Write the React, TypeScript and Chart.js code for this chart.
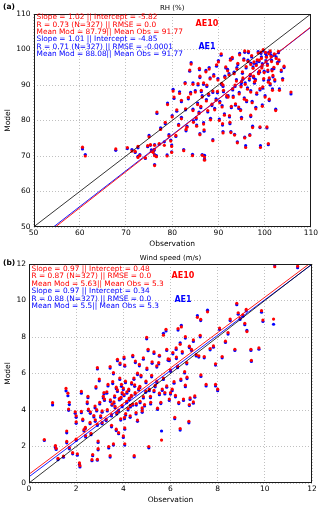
import React, { useEffect, useRef } from "react";
import { Chart, registerables } from "chart.js";

Chart.register(...registerables);

// ---------------- RH panel data ----------------
const rhTicks = [50, 60, 70, 80, 90, 100, 110];
const rhObs = [
  60.6, 61.2, 67.8, 70.3, 71.3, 72.0, 72.6, 72.6, 73.0, 74.2, 74.7, 75.0, 75.3, 75.5, 75.9, 76.1, 76.2, 76.2, 76.2, 76.6,
  77.2, 78.3, 78.9, 79.3, 79.7, 79.9, 79.9, 80.8, 81.4, 82.5, 83.2, 84.4, 85.3, 86.0, 86.5, 86.9, 87.0, 87.0, 88.8, 90.9,
  91.0, 92.7, 93.5, 94.1, 95.7, 95.9, 96.8, 97.4, 99.0, 99.1, 100.5, 100.8,
  76.7, 80.2, 80.4, 81.6, 82.0, 82.8, 82.9, 83.8, 84.1, 84.5, 85.6, 85.9, 86.5, 86.8, 87.3, 87.7, 88.2, 88.8, 89.5, 89.6,
  89.9, 90.6, 90.8, 91.1, 91.4, 91.6, 92.1, 92.4, 92.6, 93.1, 93.4, 93.7, 93.9, 94.2, 94.5, 94.8, 95.2, 95.7, 95.8, 96.1,
  96.4, 96.7, 97.0, 97.2, 97.5, 97.8, 98.1, 98.4, 98.7, 99.0, 99.2, 99.5, 99.8, 100.1, 100.4, 100.7, 100.9, 101.2, 101.5, 101.8,
  102.1, 102.4, 103.1, 103.2, 103.6, 103.9, 104.2, 105.7,
  84.6, 85.2, 85.8, 86.2, 86.8, 87.4, 87.9, 88.3, 88.6, 89.2, 89.8, 90.3, 90.7, 91.3, 91.8, 92.3, 92.8, 93.2, 93.6, 94.0,
  94.4, 94.9, 95.3, 95.6, 96.0, 96.3, 96.9, 97.3, 97.7, 98.0, 98.3, 98.6, 98.9, 99.3, 99.6, 99.9, 100.2, 100.6, 101.0, 101.4,
  101.7, 102.0, 102.5, 103.0, 88.0, 86.0, 84.5, 83.5, 85.0, 81.0, 80.0, 82.0, 78.5, 79.0, 77.5, 83.0, 84.0,
  90.0, 91.0, 92.0, 93.0, 94.6, 95.0, 95.5, 96.5, 97.0, 97.6, 98.2, 98.8, 99.4, 99.7, 100.3, 100.8, 101.2, 101.6, 102.2, 102.8,
  87.5, 89.0, 86.3, 85.5, 90.2, 92.5, 95.0, 97.0, 99.5, 101.0,
];
const rhModAE10 = [
  72.5, 70.0, 72.0, 72.4, 71.4, 71.3, 72.7, 69.6, 70.1, 69.5, 72.9, 75.4, 73.2, 71.3, 71.0, 71.9, 73.0, 70.1, 67.3, 69.8,
  73.5, 73.0, 70.0, 75.6, 74.2, 72.7, 71.0, 75.8, 78.6, 71.5, 78.1, 70.1, 78.4, 76.0, 70.2, 77.4, 69.7, 68.8, 74.3, 79.1,
  76.5, 76.6, 75.9, 73.7, 75.1, 72.4, 75.8, 78.0, 78.2, 72.4, 78.2, 73.5,
  82.4, 88.3, 86.6, 87.6, 85.7, 90.4, 83.3, 94.2, 95.9, 82.8, 90.4, 94.7, 86.6, 90.6, 93.7, 82.8, 91.7, 88.3, 85.7, 95.7,
  91.4, 98.8, 83.8, 88.5, 92.1, 95.1, 86.6, 81.4, 97.0, 89.0, 93.2, 84.7, 91.1, 96.1, 87.5, 82.8, 93.7, 99.6, 90.2, 85.7,
  96.6, 91.8, 88.0, 98.3, 94.7, 90.9, 83.3, 97.1, 93.2, 89.0, 99.3, 95.6, 91.8, 86.6, 97.8, 94.2, 98.8, 90.4, 96.6, 92.7,
  98.8, 82.8, 97.1, 88.5, 94.2, 91.4, 95.3, 88.0,
  79.5, 80.8, 82.0, 84.0, 79.0, 85.5, 87.5, 80.2, 84.6, 83.0, 88.2, 85.0, 90.5, 81.5, 87.0, 92.8, 84.0, 86.5, 90.0, 94.5,
  83.8, 89.5, 92.0, 86.0, 95.2, 88.8, 93.0, 85.0, 96.5, 91.2, 87.8, 99.0, 94.0, 97.5, 89.5, 93.5, 99.2, 95.5, 92.0, 98.0,
  88.5, 95.0, 97.5, 99.5, 94.5, 92.5, 90.2, 86.5, 88.0, 83.0, 81.0, 80.5, 79.5, 84.5, 77.5, 77.5, 87.5,
  96.5, 90.0, 94.0, 97.8, 98.5, 91.0, 97.0, 99.5, 95.8, 92.5, 95.5, 97.0, 94.8, 100.0, 96.5, 90.8, 99.6, 94.0, 91.5, 96.0,
  90.0, 92.5, 88.5, 84.5, 80.0, 79.5, 80.5, 81.5, 84.0, 86.0,
];
const rhModAE1 = [
  72.0, 70.4, 71.6, 72.1, 71.8, 71.0, 72.3, 69.9, 70.4, 69.3, 72.6, 75.8, 73.0, 71.7, 71.4, 71.6, 73.2, 70.4, 67.6, 70.1,
  73.3, 74.0, 70.3, 76.0, 74.5, 73.1, 71.2, 75.5, 78.9, 71.8, 78.4, 70.5, 78.7, 76.3, 70.4, 77.0, 70.2, 69.1, 74.6, 78.7,
  76.9, 76.9, 76.1, 74.0, 75.3, 72.9, 76.0, 78.4, 78.0, 72.9, 77.9, 73.2,
  82.0, 88.8, 86.2, 88.1, 85.3, 90.7, 83.0, 93.9, 96.3, 83.2, 90.0, 94.3, 87.0, 90.2, 94.1, 82.4, 92.0, 87.9, 86.1, 95.3,
  91.8, 98.4, 84.2, 88.1, 92.5, 94.8, 87.0, 81.0, 97.4, 88.6, 93.6, 84.3, 91.5, 95.7, 87.9, 83.1, 93.3, 99.2, 90.6, 85.3,
  97.0, 91.4, 88.4, 97.9, 95.1, 90.5, 83.7, 96.7, 93.6, 88.6, 98.9, 96.0, 91.4, 87.0, 98.2, 93.8, 99.2, 90.0, 97.0, 92.3,
  98.4, 83.2, 96.7, 88.9, 93.8, 91.8, 94.9, 87.5,
  79.9, 80.4, 82.4, 83.6, 79.4, 85.9, 87.1, 80.6, 84.2, 83.4, 87.8, 85.4, 90.1, 81.9, 86.6, 93.2, 83.6, 86.9, 89.6, 94.9,
  83.4, 89.9, 91.6, 86.4, 94.8, 89.2, 92.6, 85.4, 96.1, 91.6, 87.4, 99.4, 93.6, 97.9, 89.1, 93.9, 98.8, 95.9, 91.6, 98.4,
  88.9, 94.6, 97.9, 99.1, 94.9, 92.1, 90.6, 86.1, 88.4, 82.6, 81.4, 80.9, 79.1, 84.9, 77.9, 77.1, 87.9,
  96.9, 89.6, 94.4, 97.4, 98.9, 90.6, 97.4, 99.1, 96.2, 92.1, 95.9, 96.6, 95.2, 99.6, 96.9, 91.2, 99.2, 94.4, 91.1, 96.4,
  89.6, 92.9, 88.1, 84.9, 80.4, 79.1, 80.9, 81.1, 84.4, 85.6,
];
const rhFitAE10 = [1.02, -5.82];
const rhFitAE1 = [1.01, -4.85];
const rhStatsAE10 = [
  "Slope = 1.02 || Intercept = -5.82",
  "R = 0.73 (N=327) || RMSE = 0.0",
  "Mean Mod = 87.79|| Mean Obs = 91.77",
];
const rhStatsAE1 = [
  "Slope = 1.01 || Intercept = -4.85",
  "R = 0.71 (N=327) || RMSE = -0.0001",
  "Mean Mod = 88.08|| Mean Obs = 91.77",
];

// ---------------- Wind panel data ----------------
const windTicks = [0, 2, 4, 6, 8, 10, 12];
const windObs = [
  0.65, 1.0, 1.12, 1.15, 1.23, 1.46, 1.57, 1.6, 1.6, 1.65, 1.71, 1.71, 1.68, 1.85, 1.96, 2.0, 2.0, 2.0, 2.05, 2.14,
  2.16, 2.22, 2.22, 2.28, 2.33, 2.39, 2.47, 2.52, 2.59, 2.63, 2.67, 2.7, 2.8, 2.81, 2.84, 2.87, 2.9, 2.9, 2.93, 2.93,
  2.98, 3.0, 3.04, 3.1, 3.15, 3.18, 3.27, 3.32, 3.38, 3.44, 3.5, 3.52, 3.55, 3.58, 3.58, 3.63, 3.72, 3.75, 3.8, 3.83,
  3.89, 3.92, 3.95, 3.95, 4.0, 4.03, 4.06, 4.06, 4.09, 4.14, 4.2, 4.23, 4.29, 4.34, 4.4, 4.46, 4.48, 4.54, 4.6, 4.65,
  4.71, 4.8, 4.85, 4.96, 5.08, 5.1, 5.16, 5.3, 5.42, 5.53, 5.59, 5.62, 5.76, 5.84, 5.95, 6.07, 6.18, 6.21, 6.35, 6.41,
  6.44, 6.55, 6.63, 6.78, 6.8, 6.83, 6.97, 7.03, 7.29, 7.51, 7.91, 8.0,
  2.9, 3.44, 3.75, 3.86, 4.03, 4.06, 4.4, 4.51, 4.68, 4.85, 4.99, 5.05, 5.22, 5.3, 5.42, 5.53, 5.7, 5.81, 5.84, 5.95,
  6.1, 6.24, 6.32, 6.41, 6.46, 6.63, 6.69, 6.8, 6.89, 6.97, 7.09, 7.14, 7.2, 7.26, 7.28, 7.43, 7.57, 7.68, 7.82, 7.91,
  8.08, 8.19, 8.33, 8.44, 8.53, 8.73, 8.81, 8.87, 8.95, 9.07, 9.15, 9.21, 9.24, 9.41, 9.43, 9.75, 9.86, 9.92, 10.37, 10.42,
  11.39,
  3.3, 3.45, 3.65, 3.85, 4.1, 4.25, 4.45, 4.6, 4.75, 4.9, 5.2, 5.45, 5.7, 6.0, 6.3, 6.6, 3.1, 2.6, 2.4, 3.7,
  3.2, 3.35, 3.5, 3.6, 3.7, 3.8, 3.9, 4.0, 4.05, 4.15, 4.3, 4.35, 4.5, 4.55, 4.7, 4.8, 4.95, 5.0, 5.15, 5.35,
  5.5, 5.65, 5.9, 6.0, 6.15, 6.25, 6.5, 6.7, 2.5, 2.75,
];
const windModAE10 = [
  2.38, 4.4, 2.05, 1.9, 1.35, 1.48, 5.18, 2.85, 2.28, 4.92, 4.42, 1.95, 4.05, 1.66, 3.9, 3.68, 3.35, 2.4, 1.6, 1.1,
  0.95, 5.02, 3.92, 3.5, 2.92, 3.05, 4.44, 4.05, 3.32, 2.72, 1.28, 1.56, 4.22, 3.46, 5.28, 4.02, 3.22, 1.3, 1.88, 2.3,
  5.7, 4.42, 3.68, 3.32, 4.75, 4.96, 3.5, 4.02, 2.0, 1.5, 3.16, 4.33, 5.55, 6.05, 2.14, 4.78, 3.86, 5.1, 2.76, 4.62,
  3.52, 5.4, 4.96, 4.26, 2.58, 4.85, 3.02, 2.15, 5.58, 4.48, 4.08, 5.14, 3.68, 4.8, 4.33, 1.5, 5.38, 3.86, 6.02, 5.17,
  4.48, 4.12, 4.74, 5.58, 2.0, 5.14, 4.42, 5.07, 5.58, 4.92, 4.42, 2.35, 4.96, 5.32, 4.6, 5.14, 3.6, 4.8, 4.42, 2.98,
  5.7, 4.6, 5.36, 3.38, 4.3, 4.66, 4.44, 4.77, 5.92, 5.4, 5.4, 5.14,
  6.32, 6.38, 6.78, 6.57, 6.9, 6.46, 7.0, 6.68, 6.5, 6.86, 7.98, 7.33, 6.64, 7.18, 6.42, 7.0, 8.1, 8.42, 7.33, 6.78,
  7.15, 7.4, 8.46, 7.6, 8.55, 8.02, 6.6, 7.5, 7.33, 7.84, 7.04, 9.08, 6.97, 8.09, 8.97, 6.93, 9.38, 7.37, 7.51, 6.53,
  8.49, 6.93, 7.77, 8.24, 8.98, 7.33, 9.85, 9.33, 9.04, 9.22, 8.75, 9.51, 8.3, 7.33, 6.72, 7.4, 9.44, 8.93, 8.98, 11.85,
  11.88,
  5.0, 4.55, 4.2, 5.75, 3.8, 4.65, 5.75, 3.45, 5.9, 4.3, 5.9, 4.1, 5.75, 6.2, 6.4, 6.1, 3.95, 3.9, 2.6, 2.95,
  4.6, 5.4, 3.75, 4.45, 5.25, 4.0, 4.7, 5.2, 3.6, 5.0, 4.25, 5.5, 4.95, 4.35, 5.3, 3.95, 5.05, 6.3, 4.75, 5.35,
  6.6, 5.15, 6.8, 4.95, 5.55, 6.9, 7.2, 5.8, 4.75, 3.7,
];
const windModAE1 = [
  2.33, 4.28, 1.95, 1.84, 1.28, 1.41, 5.05, 2.75, 2.2, 4.78, 4.3, 1.87, 3.98, 1.6, 3.82, 3.6, 3.27, 2.33, 1.52, 1.02,
  0.88, 4.92, 3.85, 3.42, 2.85, 2.98, 4.35, 3.97, 3.25, 2.65, 1.22, 1.5, 4.12, 3.38, 5.2, 3.95, 3.15, 1.25, 1.82, 2.22,
  5.6, 4.33, 3.6, 3.25, 4.66, 4.88, 3.42, 3.95, 1.92, 1.42, 3.08, 4.26, 5.45, 5.98, 2.08, 4.7, 3.78, 5.02, 2.7, 4.55,
  3.45, 5.3, 4.88, 4.18, 2.5, 4.78, 2.95, 2.08, 5.5, 4.4, 4.0, 5.06, 3.6, 4.72, 4.26, 1.43, 5.3, 3.78, 5.94, 5.1,
  4.4, 4.05, 4.66, 5.5, 1.93, 5.06, 4.33, 5.0, 5.5, 4.84, 4.35, 2.85, 4.88, 5.25, 4.52, 5.06, 3.52, 4.72, 4.35, 2.9,
  5.62, 4.52, 5.28, 3.3, 4.24, 4.58, 4.37, 4.7, 5.84, 5.32, 5.32, 5.06,
  6.25, 6.3, 6.7, 6.5, 6.82, 6.4, 6.92, 6.6, 6.42, 6.78, 7.9, 7.25, 6.56, 7.1, 6.35, 6.95, 8.2, 8.33, 7.26, 6.7,
  7.08, 7.32, 8.38, 7.68, 8.64, 7.94, 6.53, 7.42, 7.26, 7.76, 6.96, 9.17, 6.9, 8.01, 8.9, 6.86, 9.47, 7.3, 7.44, 6.46,
  8.41, 6.86, 7.7, 8.16, 8.9, 7.26, 9.77, 9.25, 8.96, 9.14, 8.67, 9.43, 8.36, 7.26, 6.66, 7.33, 9.36, 8.85, 8.7, 11.95,
  11.8,
  4.92, 4.47, 4.12, 5.67, 3.72, 4.57, 5.68, 3.38, 5.82, 4.22, 5.82, 4.03, 5.67, 6.12, 6.32, 6.03, 3.88, 3.82, 2.52, 2.87,
  4.52, 5.32, 3.67, 4.37, 5.17, 3.92, 4.62, 5.12, 3.52, 4.92, 4.17, 5.42, 4.87, 4.27, 5.22, 3.87, 4.97, 6.22, 4.67, 5.27,
  6.52, 5.07, 6.72, 4.87, 5.47, 6.82, 7.12, 5.72, 4.67, 3.62,
];
const windFitAE10 = [0.97, 0.48];
const windFitAE1 = [0.97, 0.34];
const windStatsAE10 = [
  "Slope = 0.97 || Intercept = 0.48",
  "R = 0.87 (N=327) || RMSE = 0.0",
  "Mean Mod = 5.63|| Mean Obs = 5.3",
];
const windStatsAE1 = [
  "Slope = 0.97 || Intercept = 0.34",
  "R = 0.88 (N=327) || RMSE = 0.0",
  "Mean Mod = 5.5|| Mean Obs = 5.3",
];

const RED = "#ff0000";
const BLUE = "#0000ff";
const FONT = "'DejaVu Sans', sans-serif";

type PanelCfg = {
  letter: string;
  title: string;
  ticks: number[];
  obs: number[];
  modAE10: number[];
  modAE1: number[];
  fitAE10: number[];
  fitAE1: number[];
  statsAE10: string[];
  statsAE1: string[];
  height: number;
  padTop: number;
  yAxisWidth: number;
  xAxisHeight: number;
  xTitlePad: number;
  letterY: number;
  titleY: number;
  textX: number;
  textY0: number;
  textStep: number;
  tagX: number;
  tag10Y: number;
  tag1Y: number;
};

function buildConfig(p: PanelCfg): any {
  const lo = p.ticks[0];
  const hi = p.ticks[p.ticks.length - 1];
  const pts = (mod: number[]) => p.obs.map((x, i) => ({ x, y: mod[i] }));
  const fitLine = (f: number[]) => [
    { x: lo, y: f[0] * lo + f[1] },
    { x: hi, y: f[0] * hi + f[1] },
  ];

  const textPlugin = {
    id: "panelText",
    afterDraw(chart: any) {
      const { ctx, chartArea } = chart;
      ctx.save();
      ctx.strokeStyle = "#1a1a1a";
      ctx.lineWidth = 1;
      ctx.strokeRect(
        Math.round(chartArea.left) + 0.5,
        Math.round(chartArea.top) + 0.5,
        Math.round(chartArea.right - chartArea.left) - 1,
        Math.round(chartArea.bottom - chartArea.top) - 1
      );
      ctx.textBaseline = "middle";
      ctx.fillStyle = "#000";
      ctx.textAlign = "left";
      ctx.font = `bold 7.5px ${FONT}`;
      ctx.fillText(p.letter, 3, p.letterY);
      ctx.textAlign = "center";
      ctx.font = `7px ${FONT}`;
      ctx.fillText(p.title, (chartArea.left + chartArea.right) / 2, p.titleY);
      ctx.textAlign = "left";
      ctx.font = `7.4px ${FONT}`;
      const lines = [...p.statsAE10, ...p.statsAE1];
      lines.forEach((s, i) => {
        ctx.fillStyle = i < 3 ? RED : BLUE;
        ctx.fillText(s, p.textX, p.textY0 + i * p.textStep);
      });
      ctx.textAlign = "center";
      ctx.font = `bold 8px ${FONT}`;
      ctx.fillStyle = RED;
      ctx.fillText("AE10", p.tagX, p.tag10Y);
      ctx.fillStyle = BLUE;
      ctx.fillText("AE1", p.tagX, p.tag1Y);
      ctx.restore();
    },
  };

  const grid = {
    color: "#b0b0b0",
    lineWidth: 0.8,
    drawTicks: false,
  };
  const border = { display: false, dash: [1, 2] };
  const tickFont = { family: FONT, size: 7.5 };

  return {
    type: "scatter",
    data: {
      datasets: [
        {
          label: "AE1",
          data: pts(p.modAE1),
          backgroundColor: BLUE,
          borderWidth: 0,
          pointRadius: 1.6,
          order: 3,
        },
        {
          label: "AE10",
          data: pts(p.modAE10),
          backgroundColor: RED,
          borderWidth: 0,
          pointRadius: 1.6,
          order: 2,
        },
        {
          label: "1:1",
          data: [
            { x: lo, y: lo },
            { x: hi, y: hi },
          ],
          showLine: true,
          borderColor: "#000",
          borderWidth: 0.8,
          pointRadius: 0,
          order: 1,
        },
        {
          label: "Fit AE1",
          data: fitLine(p.fitAE1),
          showLine: true,
          borderColor: BLUE,
          borderWidth: 0.9,
          pointRadius: 0,
          order: 1,
        },
        {
          label: "Fit AE10",
          data: fitLine(p.fitAE10),
          showLine: true,
          borderColor: RED,
          borderWidth: 0.9,
          pointRadius: 0,
          order: 0,
        },
      ],
    },
    options: {
      responsive: false,
      animation: false,
      devicePixelRatio: 1,
      layout: { padding: { top: p.padTop, right: 8, left: 0, bottom: 0 } },
      plugins: { legend: { display: false }, tooltip: { enabled: false }, title: { display: false } },
      scales: {
        x: {
          type: "linear",
          min: lo,
          max: hi,
          afterBuildTicks: (s: any) => {
            s.ticks = p.ticks.map((v) => ({ value: v }));
          },
          afterFit: (s: any) => {
            s.height = p.xAxisHeight;
          },
          grid,
          border,
          ticks: { font: tickFont, color: "#000", padding: 2, maxRotation: 0 },
          title: {
            display: true,
            text: "Observation",
            font: { family: FONT, size: 7.5 },
            color: "#000",
            padding: { top: 0, bottom: p.xTitlePad },
          },
        },
        y: {
          type: "linear",
          min: lo,
          max: hi,
          afterBuildTicks: (s: any) => {
            s.ticks = p.ticks.map((v) => ({ value: v }));
          },
          afterFit: (s: any) => {
            s.width = p.yAxisWidth;
          },
          grid,
          border,
          ticks: { font: tickFont, color: "#000", padding: 3 },
          title: {
            display: true,
            text: "Model",
            font: { family: FONT, size: 7.5 },
            color: "#000",
            padding: { top: 3.5, bottom: 0 },
          },
        },
      },
    },
    plugins: [textPlugin],
  };
}

const rhPanel: PanelCfg = {
  letter: "(a)",
  title: "RH (%)",
  ticks: rhTicks,
  obs: rhObs,
  modAE10: rhModAE10,
  modAE1: rhModAE1,
  fitAE10: rhFitAE10,
  fitAE1: rhFitAE1,
  statsAE10: rhStatsAE10,
  statsAE1: rhStatsAE1,
  height: 253,
  padTop: 14,
  yAxisWidth: 33.5,
  xAxisHeight: 26,
  xTitlePad: 4.5,
  letterY: 7,
  titleY: 8,
  textX: 36.5,
  textY0: 17.5,
  textStep: 7.3,
  tagX: 207,
  tag10Y: 24,
  tag1Y: 46.5,
};

const windPanel: PanelCfg = {
  letter: "(b)",
  title: "Wind speed (m/s)",
  ticks: windTicks,
  obs: windObs,
  modAE10: windModAE10,
  modAE1: windModAE1,
  fitAE10: windFitAE10,
  fitAE1: windFitAE1,
  statsAE10: windStatsAE10,
  statsAE1: windStatsAE1,
  height: 254,
  padTop: 11,
  yAxisWidth: 29,
  xAxisHeight: 24,
  xTitlePad: 2.5,
  letterY: 9.7,
  titleY: 5,
  textX: 31.5,
  textY0: 16,
  textStep: 7.5,
  tagX: 183,
  tag10Y: 22.7,
  tag1Y: 47,
};

function Panel({ cfg }: { cfg: PanelCfg }) {
  const ref = useRef<HTMLCanvasElement>(null);
  useEffect(() => {
    if (!ref.current) return;
    const chart = new Chart(ref.current, buildConfig(cfg));
    return () => chart.destroy();
  }, [cfg]);
  return (
    <canvas
      ref={ref}
      width={320}
      height={cfg.height}
      style={{ display: "block", width: 320, height: cfg.height }}
    />
  );
}

export default function App() {
  return (
    <div
      style={{
        position: "absolute",
        left: 0,
        top: 0,
        width: 320,
        height: 507,
        background: "#fff",
      }}
    >
      <Panel cfg={rhPanel} />
      <Panel cfg={windPanel} />
    </div>
  );
}
